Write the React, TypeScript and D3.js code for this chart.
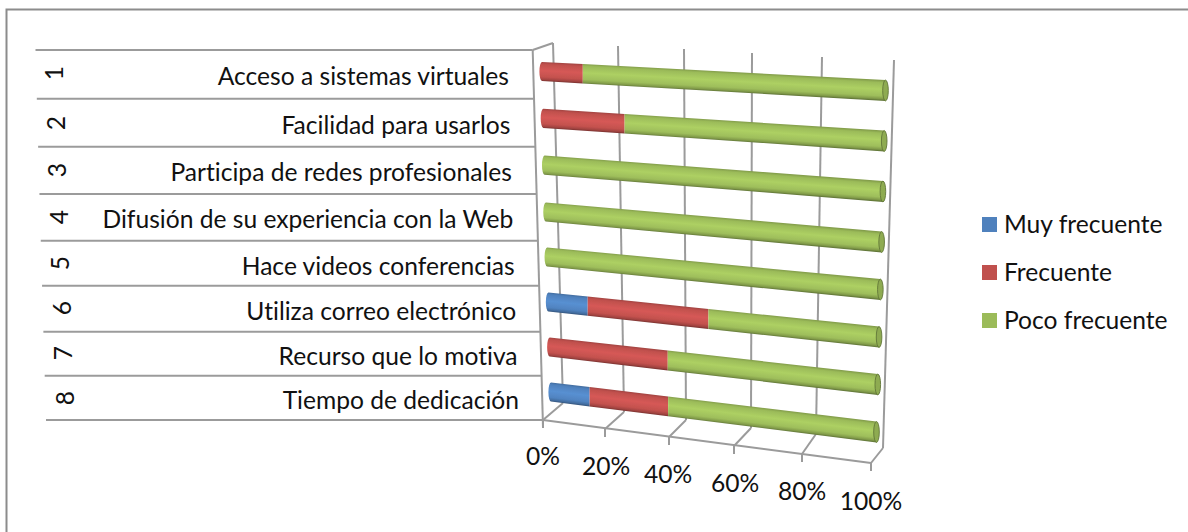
import React from "react";
import * as d3 from "d3";

const categories = [
  "Acceso a sistemas virtuales",
  "Facilidad para usarlos",
  "Participa de redes profesionales",
  "Difusión de su experiencia con la Web",
  "Hace videos conferencias",
  "Utiliza correo electrónico",
  "Recurso que lo motiva",
  "Tiempo de dedicación",
];
const rowNumbers = ["1", "2", "3", "4", "5", "6", "7", "8"];
const seriesNames = ["Muy frecuente", "Frecuente", "Poco frecuente"];
const seriesColors = ["#4F81BD", "#C0504D", "#9BBB59"];
const muyFrecuente = [0, 0, 0, 0, 0, 12.5, 0, 12.5];
const frecuente = [12.5, 25, 0, 0, 0, 37.5, 37.5, 25];
const pocoFrecuente = [87.5, 75, 100, 100, 100, 50, 62.5, 62.5];
const axisTicks = [0, 20, 40, 60, 80, 100];

const FONT = "Lato, Carlito, Calibri, sans-serif";
const GRID = "#9b9b9b";
const TEXT_SIZE = 24.6;

// 3D projection of the plot box, expressed as scales
const backTopX = d3.scaleLinear(axisTicks, [553, 618, 684, 752, 822, 894]);
const backTopY = d3.scaleLinear(axisTicks, [43, 46, 49, 53, 57, 60]);
const backBotX = d3.scaleLinear(axisTicks, [563, 624, 686, 751, 816, 883]);
const backBotY = d3.scaleLinear(axisTicks, [403, 412, 420, 428, 434, 448]);
const frontX = d3.scaleLinear(axisTicks, [543, 605, 669, 734, 802, 871]);
const frontY = d3.scaleLinear(axisTicks, [420, 429, 437, 446, 454, 463]);
const labelY = d3.scaleLinear(axisTicks, [465, 475, 483, 492, 500, 510]);
const labelX = d3.scaleLinear(axisTicks, [543, 606, 668, 735, 802, 871]);
const persp = d3.scaleLinear(axisTicks, [0, 0.19, 0.384, 0.584, 0.79, 1]);

const barLeftX = d3.scaleLinear([0, 7], [542, 551]);
const barRightX = d3.scaleLinear([0, 7], [885.5, 876.5]);
const barLeftY = d3.scaleLinear([0, 3, 7], [71.5, 212, 392]);
const barRightY = d3.scaleLinear([0, 3, 7], [90.5, 242, 432]);
const barRadius = d3.scaleLinear([0, 1], [9.6, 10.4]);

const lineY = d3.scaleLinear([0, 1, 2, 3, 4, 5, 6, 7, 8], [50, 98.7, 146.7, 194, 240.7, 285.7, 331.7, 375.7, 420]);
const lineLeft = d3.scaleLinear([0, 8], [35.5, 46]);
const lineRight = d3.scaleLinear([0, 8], [532.7, 543]);
const textRight = d3.scaleLinear([0, 7], [509, 519]);
const textBase = d3.scaleLinear([0, 1, 2, 3, 4, 5, 6, 7], [85, 134, 181, 228, 275, 320, 365, 409]);
const numX = d3.scaleLinear([0, 7], [53.5, 64]);
const numY = d3.scaleLinear([0, 1, 2, 3, 4, 5, 6, 7], [73, 123, 170, 217, 263, 308, 353, 398]);
const legendY = d3.scaleLinear([0, 2], [233, 329]);

function pt(row: number, v: number) {
  const t = persp(v);
  const x0 = barLeftX(row), x1 = barRightX(row);
  const y0 = barLeftY(row), y1 = barRightY(row);
  return { x: x0 + (x1 - x0) * t, y: y0 + (y1 - y0) * t, r: barRadius(t) };
}

function stops(color: string) {
  const c = d3.color(color)!;
  return [
    [0, c.darker(0.5)],
    [0.12, c],
    [0.45, c.brighter(0.3)],
    [0.78, c.brighter(0.05)],
    [0.92, c.darker(0.5)],
    [1, c.darker(1.3)],
  ] as [number, d3.Color][];
}

const valueRows = categories.map((_, i) => [muyFrecuente[i], frecuente[i], pocoFrecuente[i]]);

export default function App() {
  const segs: any[] = [];
  valueRows.forEach((vals, row) => {
    let acc = 0;
    vals.forEach((val, s) => {
      if (val <= 0) return;
      const a = pt(row, acc);
      const b = pt(row, acc + val);
      const first = acc === 0;
      acc += val;
      const len = Math.hypot(b.x - a.x, b.y - a.y);
      const nx = -(b.y - a.y) / len, ny = (b.x - a.x) / len;
      const m = { x: (a.x + b.x) / 2, y: (a.y + b.y) / 2, r: (a.r + b.r) / 2 };
      const bulge = 2.6;
      const d = first
        ? `M${a.x},${a.y - a.r}L${b.x},${b.y - b.r}L${b.x},${b.y + b.r}L${a.x},${a.y + a.r}A${bulge},${a.r} 0 0 1 ${a.x},${a.y - a.r}Z`
        : `M${a.x},${a.y - a.r}L${b.x},${b.y - b.r}L${b.x},${b.y + b.r}L${a.x},${a.y + a.r}Z`;
      segs.push({ row, s, d, id: `g${row}-${s}`, x1: m.x + nx * -m.r, y1: m.y + ny * -m.r, x2: m.x + nx * m.r, y2: m.y + ny * m.r, end: acc >= 100 ? b : null });
    });
  });

  return (
    <svg width={1188} height={532} style={{ position: "absolute", left: 0, top: 0, background: "#fff", fontVariantLigatures: "none" }}>
      <defs>
        {segs.map((g) => (
          <linearGradient key={g.id} id={g.id} gradientUnits="userSpaceOnUse" x1={g.x1} y1={g.y1} x2={g.x2} y2={g.y2}>
            {stops(seriesColors[g.s]).map(([o, c], k) => (
              <stop key={k} offset={o} stopColor={c.formatHex()} />
            ))}
          </linearGradient>
        ))}
        <filter id="soft" x="-5%" y="-5%" width="110%" height="110%">
          <feGaussianBlur stdDeviation="0.4" />
        </filter>
      </defs>

      {/* frame */}
      <path d="M6.5,532V9.5H1188" fill="none" stroke="#8c8c8c" strokeWidth={2} />

      {/* category table lines */}
      <g stroke={GRID} strokeWidth={2}>
        {d3.range(9).map((i) => (
          <line key={i} x1={lineLeft(i)} x2={lineRight(i)} y1={lineY(i)} y2={lineY(i)} />
        ))}
      </g>

      {/* walls, grid and floor */}
      <g stroke={GRID} strokeWidth={2} fill="none">
        <line x1={lineRight(0)} y1={lineY(0)} x2={frontX(0)} y2={frontY(0) + 7} />
        <line x1={lineRight(0)} y1={lineY(0)} x2={backTopX(0)} y2={backTopY(0)} />
        <line x1={frontX(0)} y1={frontY(0)} x2={frontX(100)} y2={frontY(100)} />
        {axisTicks.map((t) => (
          <g key={t}>
            <line x1={backTopX(t)} y1={backTopY(t)} x2={backBotX(t)} y2={backBotY(t)} />
            <line x1={backBotX(t)} y1={backBotY(t)} x2={frontX(t)} y2={frontY(t)} />
            <line x1={frontX(t)} y1={frontY(t)} x2={frontX(t)} y2={frontY(t) + 8} />
          </g>
        ))}
      </g>

      {/* cylinders */}
      <g filter="url(#soft)">
        {segs.map((g) => (
          <g key={g.id}>
            <path d={g.d} fill={`url(#${g.id})`} />
            {g.end && (
              <ellipse
                cx={g.end.x}
                cy={g.end.y}
                rx={2.8}
                ry={g.end.r}
                fill={d3.color(seriesColors[g.s])!.darker(0.25).formatHex()}
                stroke={d3.color(seriesColors[g.s])!.darker(1.3).formatHex()}
                strokeWidth={0.9}
              />
            )}
          </g>
        ))}
      </g>

      {/* category labels */}
      <g fontFamily={FONT} fontSize={TEXT_SIZE} fill="#111">
        {categories.map((c, i) => (
          <text key={c} x={textRight(i)} y={textBase(i)} textAnchor="end">
            {c}
          </text>
        ))}
        {rowNumbers.map((n, i) => (
          <text key={n} textAnchor="middle" dominantBaseline="central" transform={`translate(${numX(i)},${numY(i)}) rotate(-90)`}>
            {n}
          </text>
        ))}
        {axisTicks.map((t) => (
          <text key={t} x={labelX(t)} y={labelY(t)} textAnchor="middle">
            {t}%
          </text>
        ))}
      </g>

      {/* legend */}
      <g fontFamily={FONT} fontSize={TEXT_SIZE} fill="#111">
        {seriesNames.map((n, i) => (
          <g key={n}>
            <rect x={982} y={legendY(i) - 16} width={15} height={15} fill={seriesColors[i]} />
            <text x={1004} y={legendY(i)}>
              {n}
            </text>
          </g>
        ))}
      </g>
    </svg>
  );
}
